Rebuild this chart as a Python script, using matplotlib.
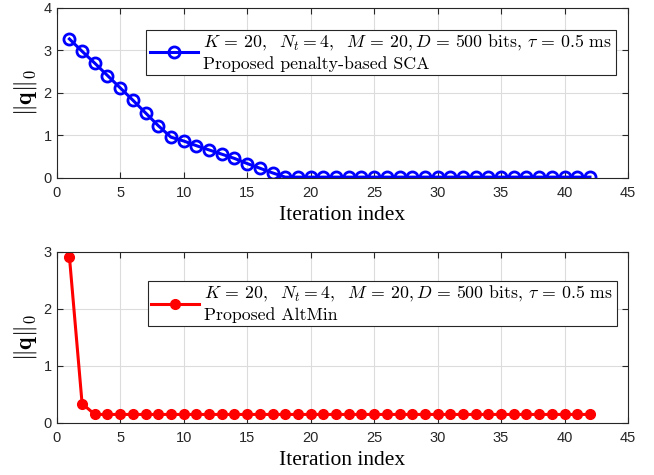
import numpy as np
import matplotlib
matplotlib.use('Agg')
import matplotlib.pyplot as plt

# data
iters = np.arange(1, 43)
sca_vals = [3.27, 2.98, 2.70, 2.41, 2.12, 1.83, 1.53, 1.23, 0.96, 0.87,
            0.76, 0.66, 0.56, 0.46, 0.34, 0.23, 0.12] + [0.02] * 25
altmin_vals = [2.92, 0.34] + [0.15] * 40

legend_title = r'$K\,=\,20,\ \ N_t = 4,\ \ M\, =\, 20, D\, =\, 500$ bits, $\tau\, =\, 0.5$ ms'
sca_label = 'Proposed penalty-based SCA'
altmin_label = 'Proposed AltMin'

plt.rcParams['mathtext.fontset'] = 'cm'
plt.rcParams['font.family'] = 'Liberation Sans'

fig = plt.figure(figsize=(6.54, 4.75), dpi=100)
ax1 = fig.add_axes([0.0867, 0.6253, 0.8736, 0.358])
ax2 = fig.add_axes([0.0867, 0.1095, 0.8736, 0.36])

edge = '#262626'


def style(ax, ymax):
    ax.set_xlim(0, 45)
    ax.set_ylim(0, ymax)
    ax.set_xticks(np.arange(0, 46, 5))
    ax.set_yticks(np.arange(0, ymax + 1, 1))
    ax.grid(True, color='#dcdcdc', linewidth=0.8)
    ax.set_axisbelow(True)
    ax.tick_params(direction='in', top=True, right=True, labelsize=10.5,
                   colors=edge, length=4, width=0.8)
    ax.tick_params(axis='x', pad=6)
    for s in ax.spines.values():
        s.set_color(edge)
        s.set_linewidth(0.8)
    ax.set_xlabel('Iteration index', family='Liberation Serif', fontsize=15.5, labelpad=4)
    ax.set_ylabel(r'$\|\mathbf{q}\|_0$', fontsize=17, labelpad=3)


ax1.plot(iters, sca_vals, color='blue', linewidth=2.2, marker='o', markersize=8,
         markerfacecolor='none', markeredgewidth=2, label=legend_title + '\n' + sca_label)
style(ax1, 4)

ax2.plot(iters, altmin_vals, color='red', linewidth=2.2, marker='o', markersize=7,
         label=legend_title + '\n' + altmin_label)
style(ax2, 3)

for ax, loc in [(ax1, (0.157, 0.605)), (ax2, (0.159, 0.565))]:
    leg = ax.legend(loc='lower left', bbox_to_anchor=loc, prop={'family': 'cmr10', 'size': 12.8},
                    fancybox=False, framealpha=1, edgecolor=edge, handlelength=2.7,
                    borderpad=0.2, handletextpad=0.3, borderaxespad=0)
    leg.get_frame().set_linewidth(0.8)

fig.savefig('out.png', dpi=100)
